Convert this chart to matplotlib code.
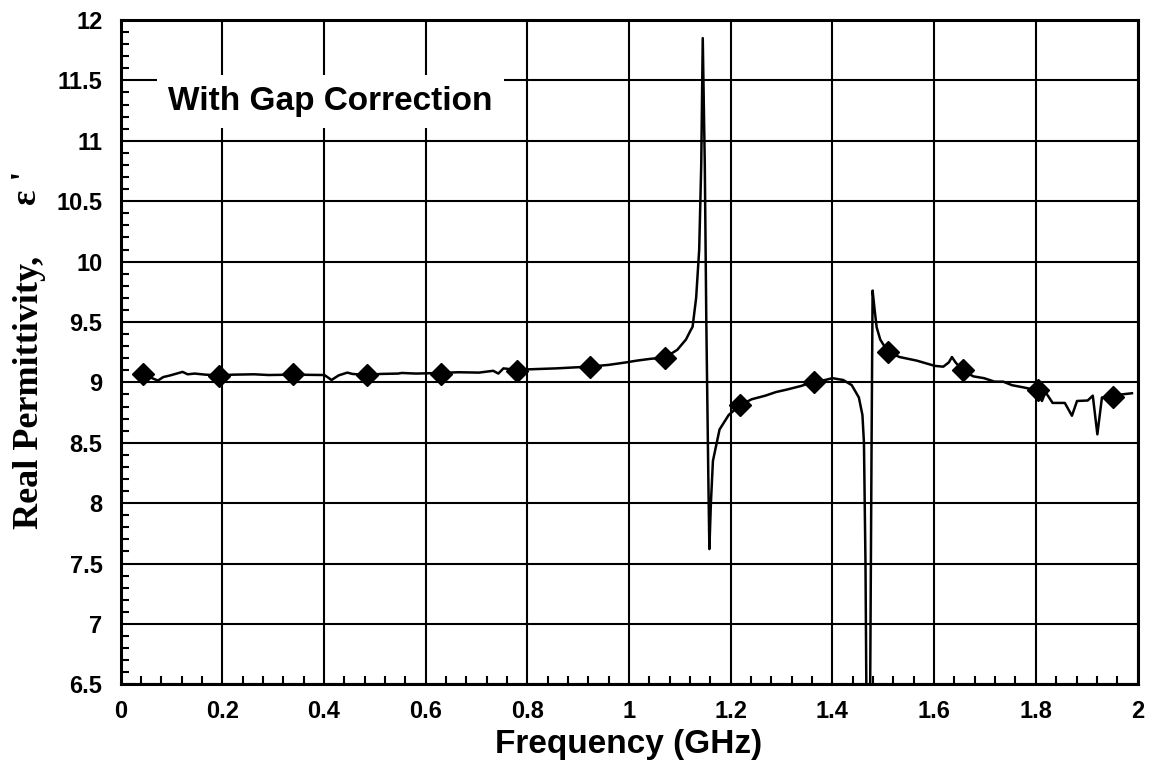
import numpy as np
import matplotlib.pyplot as plt
from matplotlib.ticker import MultipleLocator

# Measured trace (frequency in GHz, real permittivity)
freq = [0.044, 0.0735, 0.084, 0.098, 0.122, 0.132, 0.146, 0.167, 0.193, 0.222,
        0.263, 0.291, 0.339, 0.401, 0.415, 0.429, 0.446, 0.456, 0.484, 0.512,
        0.546, 0.553, 0.581, 0.630, 0.664, 0.705, 0.733, 0.743, 0.753, 0.781,
        0.802, 0.857, 0.924, 0.960, 0.995, 1.015, 1.042, 1.071, 1.095, 1.112,
        1.121, 1.125, 1.132, 1.138, 1.142, 1.145, 1.149, 1.152, 1.156, 1.158,
        1.161, 1.165, 1.178, 1.196, 1.218, 1.241, 1.268, 1.289, 1.310, 1.338,
        1.364, 1.386, 1.400, 1.421, 1.438, 1.452, 1.459, 1.462, 1.465, 1.467,
        1.474, 1.477, 1.479, 1.483, 1.487, 1.494, 1.509, 1.532, 1.566, 1.601,
        1.618, 1.629, 1.635, 1.642, 1.656, 1.677, 1.698, 1.719, 1.736, 1.753,
        1.774, 1.804, 1.812, 1.819, 1.833, 1.857, 1.871, 1.881, 1.902, 1.912,
        1.921, 1.930, 1.952, 1.968, 1.989]
eps = [9.067, 9.015, 9.044, 9.058, 9.087, 9.067, 9.073, 9.064, 9.058, 9.064,
       9.067, 9.061, 9.064, 9.061, 9.020, 9.058, 9.081, 9.070, 9.061, 9.070,
       9.073, 9.078, 9.073, 9.078, 9.084, 9.081, 9.096, 9.073, 9.116, 9.102,
       9.108, 9.116, 9.131, 9.145, 9.166, 9.180, 9.195, 9.206, 9.270, 9.355,
       9.430, 9.460, 9.700, 10.10, 10.80, 11.85, 10.80, 9.500, 8.200, 7.620,
       8.000, 8.350, 8.610, 8.730, 8.810, 8.860, 8.890, 8.920, 8.940, 8.970,
       9.006, 9.020, 9.035, 9.020, 8.977, 8.875, 8.730, 8.500, 7.500, 6.300,
       6.300, 8.500, 9.760, 9.600, 9.456, 9.355, 9.253, 9.210, 9.180, 9.137,
       9.130, 9.166, 9.210, 9.166, 9.100, 9.050, 9.035, 9.006, 9.006, 8.977,
       8.960, 8.933, 8.846, 8.920, 8.830, 8.830, 8.724, 8.846, 8.850, 8.890,
       8.570, 8.875, 8.875, 8.900, 8.910]

# Diamond markers
mark_freq = [0.044, 0.193, 0.339, 0.484, 0.630, 0.779, 0.924, 1.071, 1.218,
             1.364, 1.509, 1.656, 1.804, 1.952]
mark_eps = [9.067, 9.05, 9.067, 9.064, 9.073, 9.096, 9.125, 9.206, 8.81,
            9.006, 9.253, 9.10, 8.933, 8.875]

fig = plt.figure(figsize=(11.51, 7.61), dpi=100)
ax = fig.add_axes([0.1047, 0.1007, 0.8836, 0.873])

ax.plot(freq, eps, color='black', lw=1.8, zorder=3)
ax.plot(mark_freq, mark_eps, 'D', color='black', ms=11, zorder=4)

ax.set_xlim(0, 2)
ax.set_ylim(6.5, 12)
ax.xaxis.set_minor_locator(MultipleLocator(0.04))
ax.yaxis.set_minor_locator(MultipleLocator(0.1))
ax.set_xticks(np.arange(0, 2.01, 0.2))
ax.set_xticklabels(['0', '0.2', '0.4', '0.6', '0.8', '1', '1.2', '1.4', '1.6', '1.8', '2'])
ax.set_yticks(np.arange(6.5, 12.01, 0.5))
ax.set_yticklabels(['6.5', '7', '7.5', '8', '8.5', '9', '9.5', '10', '10.5', '11', '11.5', '12'])

ax.grid(True, which='major', color='black', lw=1.5)
ax.tick_params(which='major', length=0, labelsize=17)
ax.tick_params(axis='x', which='major', pad=11)
ax.tick_params(axis='y', which='major', pad=13)
ax.tick_params(which='minor', direction='in', length=6, width=1.5,
               top=False, right=False)
for lab in ax.get_xticklabels() + ax.get_yticklabels():
    lab.set_fontfamily('Liberation Sans')
    lab.set_fontweight('bold')
for s in ax.spines.values():
    s.set_linewidth(2.2)

ax.text(0.0467, 0.8645, 'With Gap Correction', transform=ax.transAxes,
        fontsize=24, fontweight='bold', family='Liberation Sans',
        va='baseline', ha='left', zorder=5,
        bbox=dict(facecolor='white', edgecolor='none', pad=8))

fig.text(0.5464, 0.011, 'Frequency (GHz)', ha='center', va='baseline',
         fontsize=24, fontweight='bold', family='Liberation Sans')
fig.text(0.026, 1 - 392 / 761, 'Real Permittivity,', rotation=90,
         ha='center', va='center', fontsize=26, fontweight='bold',
         family='Liberation Serif')
fig.text(0.024, 1 - 188 / 761, "ε '", rotation=90,
         ha='center', va='center', fontsize=26, fontweight='bold',
         family='Liberation Serif')

fig.savefig('out.png', dpi=100)
